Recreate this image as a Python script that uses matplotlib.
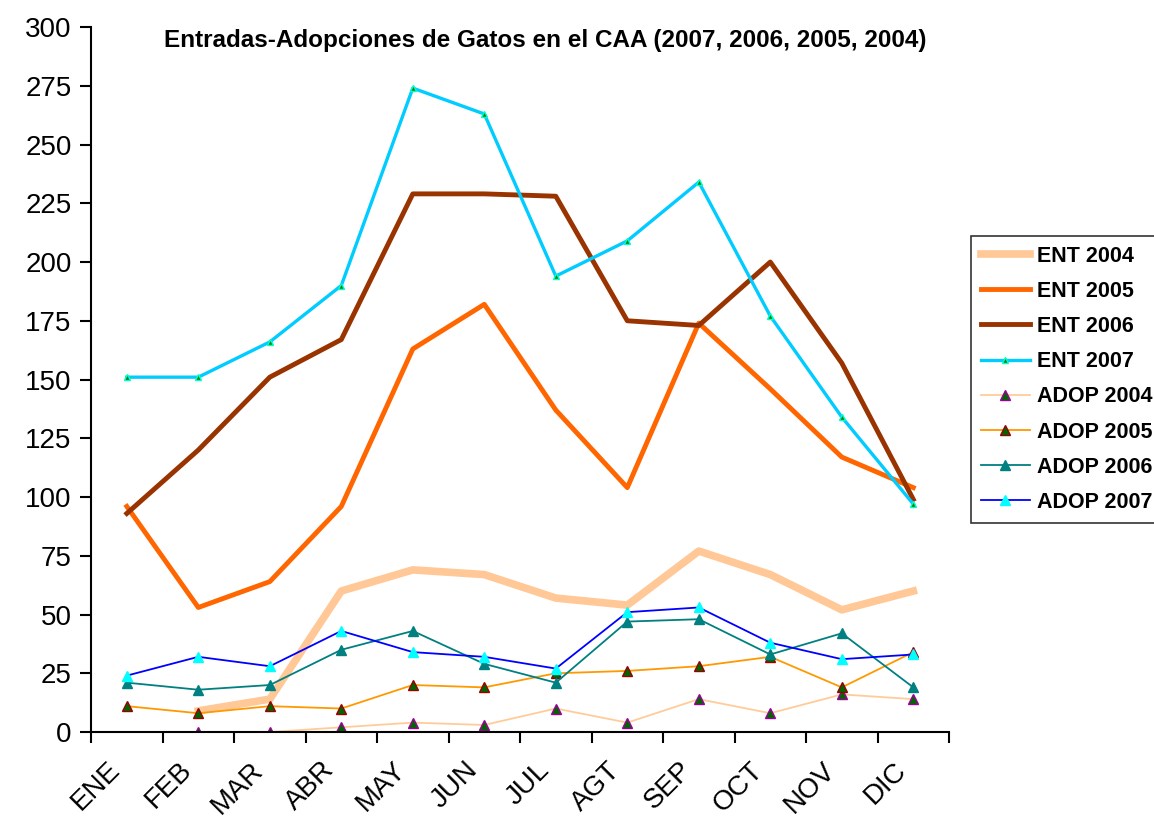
import matplotlib.pyplot as plt
import matplotlib.transforms as mtransforms
import numpy as np

nan = np.nan

# Month categories
months = ['ENE', 'FEB', 'MAR', 'ABR', 'MAY', 'JUN', 'JUL', 'AGT', 'SEP', 'OCT', 'NOV', 'DIC']

# Entradas (intake) per year
ent_2004 = [nan, 9, 14, 60, 69, 67, 57, 54, 77, 67, 52, 60]
ent_2005 = [96, 53, 64, 96, 163, 182, 137, 104, 174, 146, 117, 104]
ent_2006 = [93, 120, 151, 167, 229, 229, 228, 175, 173, 200, 157, 99]
ent_2007 = [151, 151, 166, 190, 274, 263, 194, 209, 234, 177, 134, 97]

# Adopciones per year
adop_2004 = [nan, 0, 0, 2, 4, 3, 10, 4, 14, 8, 16, 14]
adop_2005 = [11, 8, 11, 10, 20, 19, 25, 26, 28, 32, 19, 34]
adop_2006 = [21, 18, 20, 35, 43, 29, 21, 47, 48, 33, 42, 19]
adop_2007 = [24, 32, 28, 43, 34, 32, 27, 51, 53, 38, 31, 33]

plt.rcParams['font.family'] = ['Liberation Sans', 'DejaVu Sans']

fig = plt.figure(figsize=(11.54, 8.19), dpi=100)
ax = fig.add_axes([0.0789, 0.1062, 0.7435, 0.8608])

x = np.arange(len(months)) + 0.5

ax.plot(x, ent_2004, color='#FFC896', lw=5.5, label='ENT 2004', solid_joinstyle='round')
ax.plot(x, ent_2005, color='#FF6600', lw=3.5, label='ENT 2005')
ax.plot(x, ent_2006, color='#993300', lw=3.5, label='ENT 2006')
ax.plot(x, ent_2007, color='#00CCFF', lw=2.4, marker='^', ms=5,
        mfc='#008000', mec='#00FFCC', label='ENT 2007')
ax.plot(x, adop_2004, color='#FFCC99', lw=1.3, marker='^', ms=7,
        mfc='#006600', mec='#990099', label='ADOP 2004')
ax.plot(x, adop_2005, color='#FF9900', lw=1.3, marker='^', ms=7,
        mfc='#006600', mec='#990000', label='ADOP 2005')
ax.plot(x, adop_2006, color='#008080', lw=1.3, marker='^', ms=7,
        mfc='#008080', mec='#008080', label='ADOP 2006')
ax.plot(x, adop_2007, color='#0000FF', lw=1.3, marker='^', ms=7,
        mfc='#00FFFF', mec='#00FFFF', label='ADOP 2007')

ax.set_xlim(0, 12)
ax.set_ylim(0, 300)
ax.set_yticks(np.arange(0, 301, 25))
ax.set_xticks(np.arange(0, 13))
ax.set_xticklabels([])
ax.set_xticks(x, minor=True)
ax.set_xticklabels(months, minor=True, rotation=45, ha='right',
                   rotation_mode='anchor', fontsize=20)
ax.tick_params(axis='x', which='minor', length=0, pad=18)
ax.tick_params(axis='x', which='major', length=8, width=1.5, direction='out')
ax.tick_params(axis='y', length=8, width=1.5, direction='out', labelsize=20, pad=6)

# shift month labels a little to the left, as in the original
shift = mtransforms.ScaledTranslation(-0.2, 0, fig.dpi_scale_trans)
for lab in ax.get_xticklabels(minor=True):
    lab.set_transform(lab.get_transform() + shift)

for s in ['top', 'right']:
    ax.spines[s].set_visible(False)
for s in ['left', 'bottom']:
    ax.spines[s].set_linewidth(1.5)

ax.set_title('Entradas-Adopciones de Gatos en el CAA (2007, 2006, 2005, 2004)',
             fontsize=17.5, fontweight='bold', x=0.529, y=0.96)

leg = fig.legend(loc='upper left', bbox_to_anchor=(0.8414, 0.712), frameon=True,
                 fancybox=False, edgecolor='black', borderaxespad=0,
                 prop={'weight': 'bold', 'size': 15.5}, handlelength=2.3,
                 labelspacing=0.66, borderpad=0.45, handletextpad=0.3)
leg.get_frame().set_linewidth(1.2)

fig.savefig('out.png', dpi=100)
